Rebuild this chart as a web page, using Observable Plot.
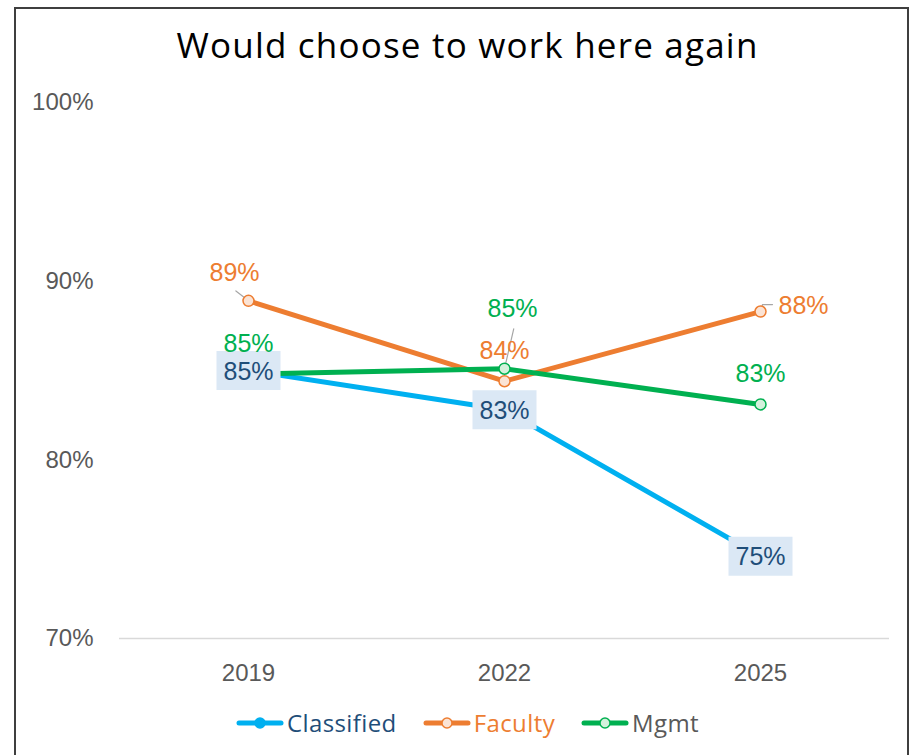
<!DOCTYPE html>
<html>
<head>
<meta charset="utf-8">
<script src="https://cdn.jsdelivr.net/npm/d3@7"></script>
<script src="https://cdn.jsdelivr.net/npm/@observablehq/plot@0.6"></script>
<style>
  html, body { margin: 0; padding: 0; background: #fff; }
  #wrap { position: relative; width: 919px; height: 755px; overflow: hidden; }
  #frame { position: absolute; left: 14px; top: 7px; width: 895px; height: 800px; border: 2px solid #3f3f3f; box-sizing: border-box; pointer-events: none; }
  #title { box-sizing: border-box; height: 80px; padding-top: 27px; padding-left: 16px; width: 919px; text-align: center;
           font-family: "Open Sans", sans-serif; font-size: 35px; letter-spacing: 1.2px; line-height: 1; color: #000; }
  #legend { position: absolute; left: 0; top: 709px; width: 919px; display: flex; justify-content: center; padding-left: 16px; box-sizing: border-box;
            font-family: "Open Sans", sans-serif; font-size: 24px; letter-spacing: 0.4px; line-height: 28px; }
  .item { display: flex; align-items: center; margin: 0 13px; }
  .item svg { margin-right: 3px; }
</style>
</head>
<body>
<div id="wrap">
  <div id="title">Would choose to work here again</div>
  <div id="chart"></div>
  <div id="legend"></div>
  <div id="frame"></div>
</div>
<script>
// ---- data ----
const years = ["2019", "2022", "2025"];
const series = ["Classified", "Faculty", "Mgmt"];
const classified = [0.850, 0.828, 0.746];
const faculty = [0.889, 0.844, 0.883];
const mgmt = [0.848, 0.851, 0.831];
const yTicks = [0.7, 0.8, 0.9, 1.0];

const valuesBySeries = {Classified: classified, Faculty: faculty, Mgmt: mgmt};
const data = series.flatMap(s => years.map((yr, i) => ({series: s, year: yr, value: valuesBySeries[s][i]})));

// ---- styles ----
const lineColor = {Classified: "#00b0f0", Faculty: "#ed7d31", Mgmt: "#00b050"};
const markerFill = {Classified: "#00b0f0", Faculty: "#fbe3d4", Mgmt: "#d3f1dc"};
const labelColor = {Classified: "#1f4e79", Faculty: "#ed7d31", Mgmt: "#00b050"};
const legendText = {Classified: "#1f4e79", Faculty: "#ed7d31", Mgmt: "#595959"};
const labelOffset = {
  "Classified 2019": [0, 1], "Classified 2022": [0, 1], "Classified 2025": [0, 1],
  "Faculty 2019": [-14, -28], "Faculty 2022": [0, -30], "Faculty 2025": [43, -6],
  "Mgmt 2019": [0, -30], "Mgmt 2022": [8, -60], "Mgmt 2025": [0, -30]
};
const leaders = [
  {key: "Faculty 2019", len: 16, rot: -52, dx: 0, dy: 0},
  {key: "Mgmt 2022", len: 41, rot: 13, dx: 0, dy: 0},
  {key: "Faculty 2025", len: 7, rot: 16, dx: 0, dy: 0},
  {key: "Faculty 2025", len: 10, rot: 90, dx: 2, dy: -7}
];
const keyOf = d => d.series + " " + d.year;
const fmt = d3.format(".0%");

const lineShape = {draw(context, l) { context.moveTo(0, 0); context.lineTo(0, -l); }};
const boxSymbol = {draw(context) { context.rect(-32, -19.5, 64, 39); }};

const marks = [
  Plot.ruleY([0.7], {stroke: "#d9d9d9", strokeWidth: 1.5}),
  Plot.axisY({ticks: yTicks, tickFormat: fmt, tickSize: 0, tickPadding: 26, fontSize: 24, fill: "#595959", label: null}),
  Plot.axisX({tickSize: 0, tickPadding: 25, fontSize: 24, fill: "#595959", label: null})
];
for (const s of series) {
  marks.push(Plot.line(data.filter(d => d.series === s), {x: "year", y: "value", stroke: lineColor[s], strokeWidth: 5, strokeLinejoin: "round", strokeLinecap: "round"}));
}
for (const L of leaders) {
  const d = data.find(e => keyOf(e) === L.key);
  marks.push(Plot.vector([d], {x: "year", y: "value", length: L.len, rotate: L.rot, anchor: "start", shape: lineShape, stroke: "#a6a6a6", strokeWidth: 1.2, dx: L.dx, dy: L.dy}));
}
for (const s of series) {
  marks.push(Plot.dot(data.filter(d => d.series === s), {x: "year", y: "value", r: 5.5, fill: markerFill[s], stroke: lineColor[s], strokeWidth: 1.5}));
}
marks.push(Plot.dot(data.filter(d => d.series === "Classified"), {x: "year", y: "value", symbol: boxSymbol, fill: "#dbe8f5"}));
for (const d of data) {
  const [dx, dy] = labelOffset[keyOf(d)];
  marks.push(Plot.text([d], {x: "year", y: "value", text: e => fmt(e.value), dx, dy, fill: labelColor[d.series], fontSize: 25, textAnchor: "middle", lineAnchor: "middle"}));
}

const chart = Plot.plot({
  width: 919,
  height: 620,
  marginTop: 22,
  marginBottom: 62,
  marginLeft: 119,
  marginRight: 30,
  style: {fontFamily: "'Liberation Sans', Arial, sans-serif", background: "transparent", overflow: "visible"},
  x: {type: "point", domain: years, padding: 0.5},
  y: {domain: [0.7, 1.0]},
  marks
});
document.getElementById("chart").appendChild(chart);

// ---- legend ----
const legend = document.getElementById("legend");
for (const s of series) {
  const item = document.createElement("div");
  item.className = "item";
  item.innerHTML = `<svg width="48" height="14" viewBox="0 0 48 14"><line x1="3" y1="7" x2="45" y2="7" stroke="${lineColor[s]}" stroke-width="5" stroke-linecap="round"/><circle cx="24" cy="7" r="5" fill="${markerFill[s]}" stroke="${lineColor[s]}" stroke-width="1.5"/></svg><span style="color:${legendText[s]}">${s}</span>`;
  legend.appendChild(item);
}
</script>
</body>
</html>
